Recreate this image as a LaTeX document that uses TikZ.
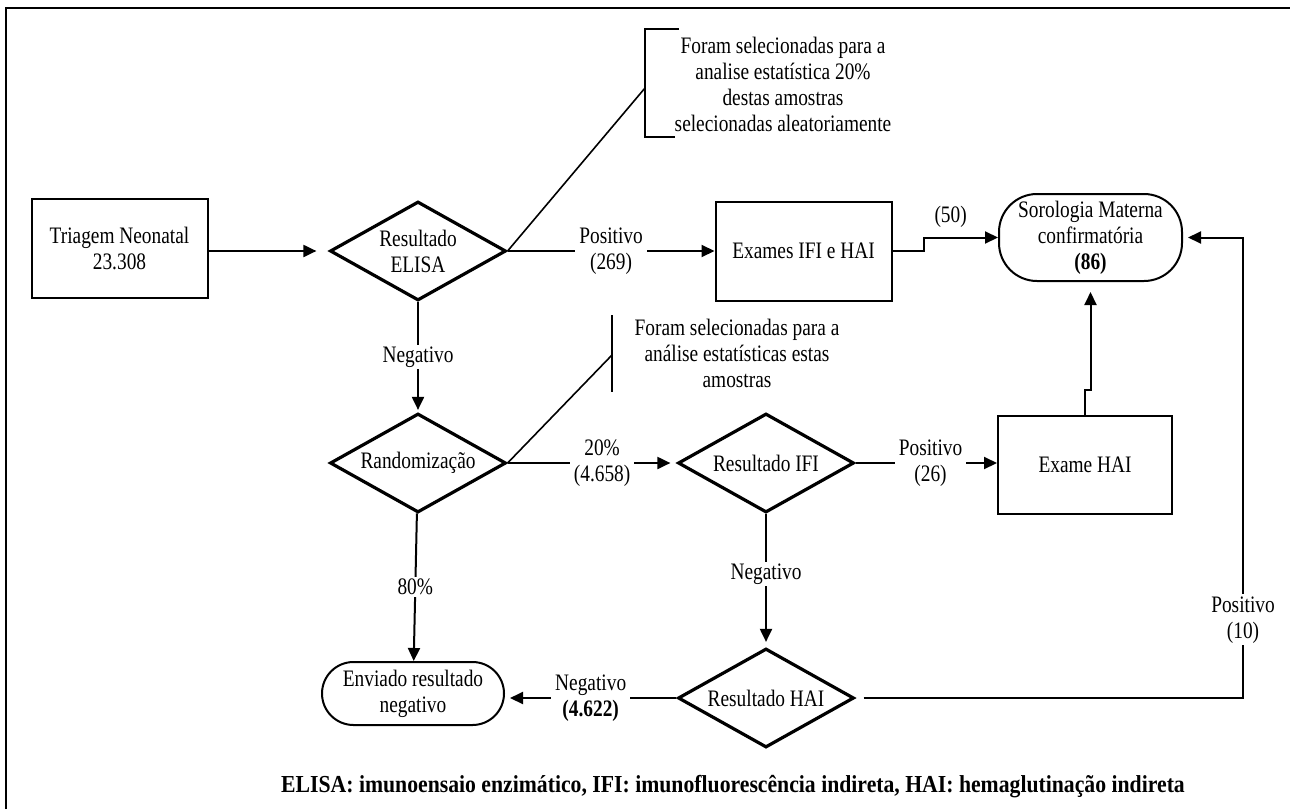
\documentclass[tikz,border=0pt]{standalone}
\usepackage{fontspec}
\setmainfont{Liberation Serif}[FakeStretch=0.82]
\usetikzlibrary{positioning,calc,arrows.meta,shapes.geometric}
\tikzset{>={Triangle[length=6.5pt,width=6pt]}}
\tikzset{
  procbox/.style={draw,line width=1pt,minimum width=88pt,minimum height=49.5pt,align=center,inner sep=0pt},
  decision/.style={draw,diamond,line width=1.6pt,minimum width=88pt,minimum height=49.5pt,aspect=1.78,inner sep=0pt,align=center},
  termbox/.style={draw,rectangle,line width=1pt,align=center,inner sep=0pt},
  edgelbl/.style={fill=white,align=center,inner xsep=2pt,inner ysep=1pt},
  conn/.style={line width=1pt},
  notaline/.style={line width=0.8pt},
}

\begin{document}
\begin{tikzpicture}[x=0.5pt,y=-0.5pt,font=\fontsize{11.8}{13}\selectfont]
\useasboundingbox (0,0) rectangle (1290,809);
% frame
\draw[line width=1.2pt] (6,809) -- (6,8) -- (1290,8);

% nodes
\node[procbox] (triagem) at (119.5,248.5) {Triagem Neonatal\\23.308};
\node[decision] (elisa) at (418,251) {Resultado\\ELISA};
\node[procbox] (exames) at (803.5,251) {Exames IFI e HAI};
\node[termbox,rounded corners=19pt,minimum width=91.5pt,minimum height=43.5pt] (soro) at (1090.5,237.5) {Sorologia Materna\\confirmatória\\\textbf{(86)}};
\node[decision] (rand) at (418,463) {Randomização};
\node[decision] (ifi) at (766,463) {Resultado IFI};
\node[procbox,minimum width=87pt,minimum height=49pt] (examehai) at (1085,465) {Exame HAI};
\node[decision] (hai) at (766,698) {Resultado HAI};
\node[termbox,rounded corners=15.75pt,minimum width=91pt,minimum height=31.5pt] (enviado) at (413,693.5) {Enviado resultado\\negativo};

% notes
\node[align=center] (nota1) at (783,84) {Foram selecionadas para a\\analise estatística 20\%\\destas amostras\\selecionadas aleatoriamente};
\coordinate (b1) at (645,88);
\draw[notaline] (679,29) -- (645,29) -- (645,137) -- (675,137);
\draw[notaline] (elisa.east) -- (b1);
\node[align=center] (nota2) at (737,353) {Foram selecionadas para a\\análise estatísticas estas\\amostras};
\coordinate (b2) at (612,355);
\draw[notaline] (612,315) -- (612,392);
\draw[notaline] (rand.east) -- (b2);

% connectors
\draw[conn,->,shorten >=6pt] (triagem.east |- elisa) -- (elisa.west);
\draw[conn,->] (elisa) -- node[edgelbl]{Positivo\\(269)} (exames);
\draw[conn,->,shorten >=1pt] (elisa) -- node[edgelbl]{Negativo} (rand);
\draw[conn,->,shorten >=3pt] (rand) -- node[edgelbl,pos=0.56]{20\%\\(4.658)} (ifi);
\draw[conn,->] (rand) -- node[edgelbl]{80\%} (enviado);
\draw[conn,->] (ifi) -- node[edgelbl,pos=0.53]{Positivo\\(26)} (ifi -| examehai.west);
\draw[conn,->,shorten >=2.5pt] (ifi) -- node[edgelbl,pos=0.45]{Negativo} (hai);
\draw[conn,->,shorten >=2.5pt] (hai) -- node[edgelbl]{Negativo\\\textbf{(4.622)}} (hai -| enviado.east);
\coordinate (j50) at (924,251);
\draw[conn,->] (exames.east) -- (j50) |- node[pos=0.68,above=1pt]{(50)} (soro.west);
\draw[conn,->,shorten >=5pt] (examehai.north) -- ++(0,-25) -| (soro.south);
\coordinate (c10) at (1243,698);
\draw[conn,->,shorten >=2.5pt,shorten <=4pt] (hai.east) -- (c10) -- node[edgelbl,pos=0.17]{Positivo\\(10)} (c10 |- soro.east) -- (soro.east);

% footer
\node[font=\fontsize{12.2}{14}\selectfont\bfseries\addfontfeatures{FakeStretch=0.89}] (rodape) at (733,787) {ELISA: imunoensaio enzimático, IFI: imunofluorescência indireta, HAI: hemaglutinação indireta};
\end{tikzpicture}
\end{document}
